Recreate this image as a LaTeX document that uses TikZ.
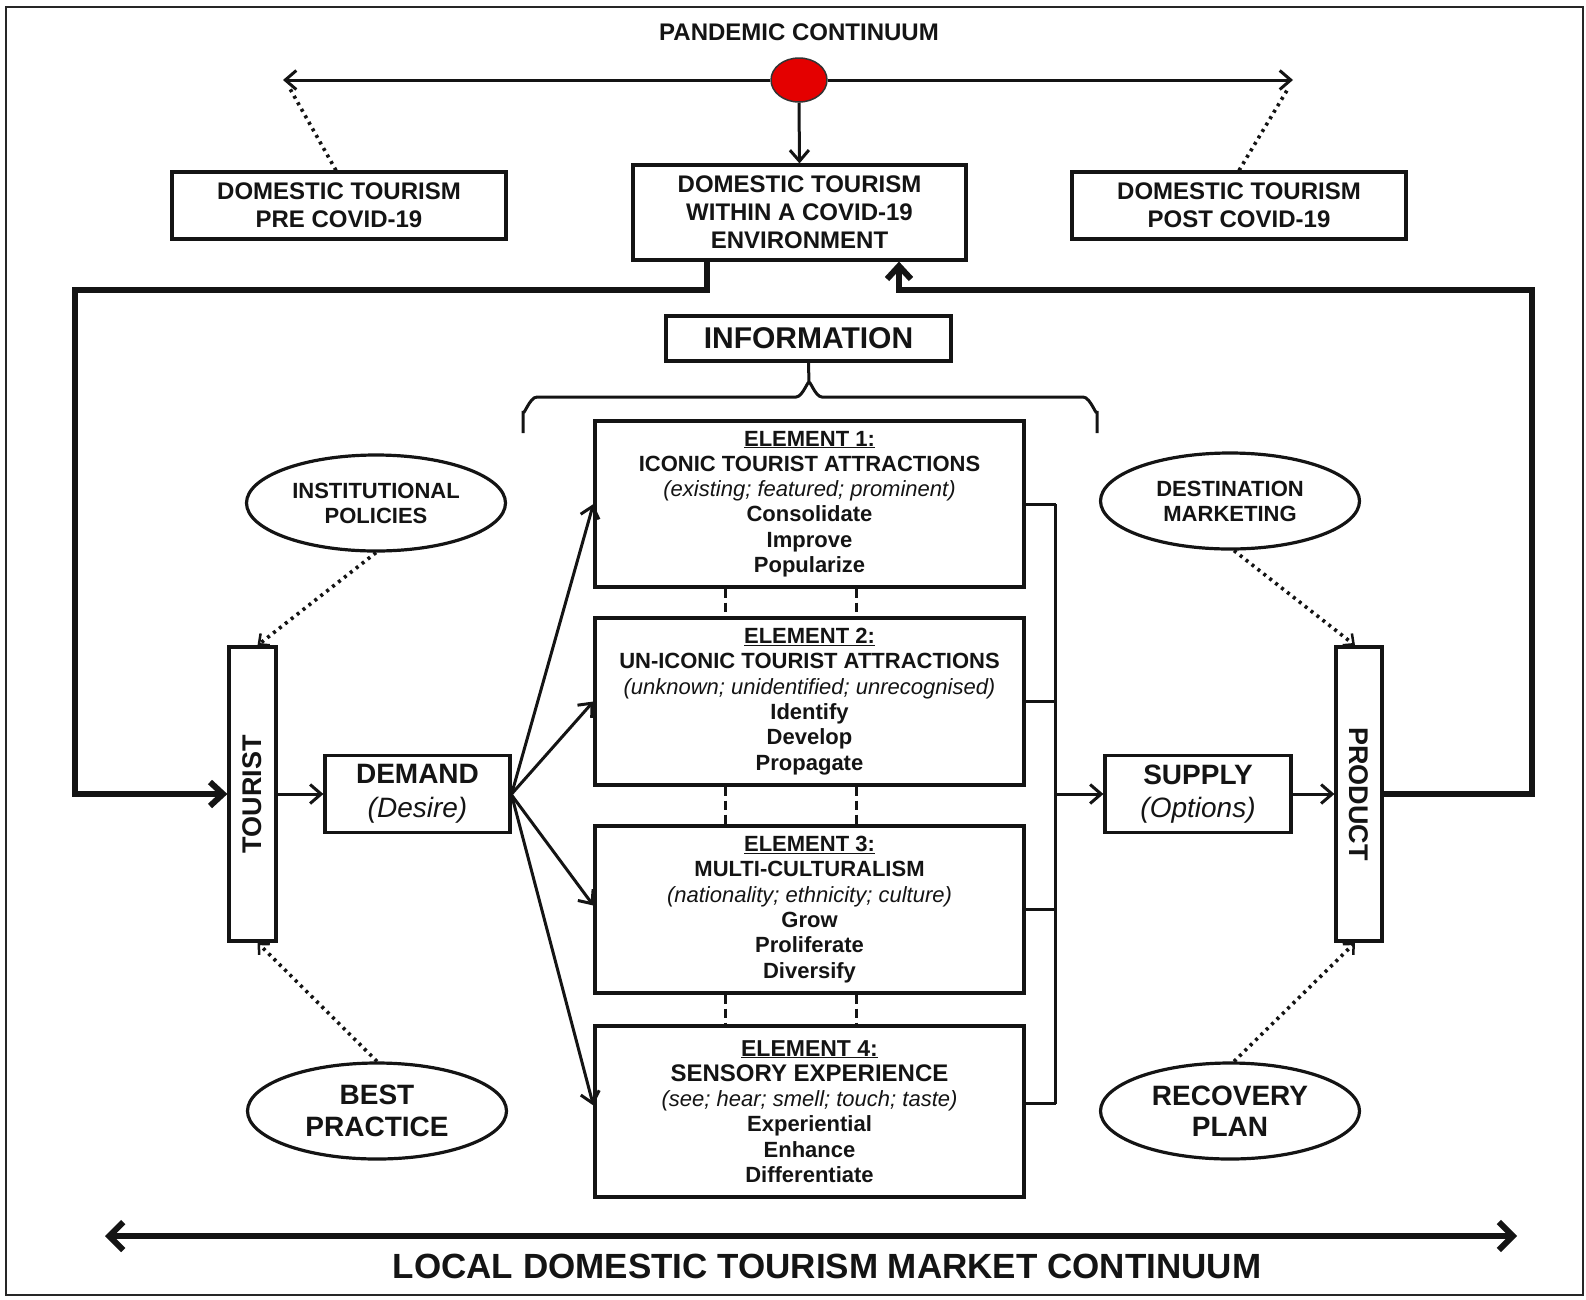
\documentclass[tikz,border=0pt]{standalone}
\usepackage{fontspec}
\setmainfont{Liberation Sans}
\usetikzlibrary{arrows.meta,shapes.geometric,calc}
\definecolor{cred}{RGB}{228,0,0}
\definecolor{ink}{RGB}{20,20,20}
\newcommand\dgTop{\fontsize{24}{27.8}\selectfont\bfseries}
\newcommand\dgInfo{\fontsize{30}{34}\selectfont\bfseries}
\newcommand\dgEl{\fontsize{22}{25.3}\selectfont\bfseries}
\newcommand\dgMid{\fontsize{28}{33.5}\selectfont}
\newcommand\dgVert{\fontsize{27}{30}\selectfont\bfseries}
\newcommand\dgEllS{\fontsize{22}{25}\selectfont\bfseries}
\newcommand\dgEllL{\fontsize{28}{31.5}\selectfont\bfseries}
\newcommand\dgBot{\fontsize{35}{40}\selectfont\bfseries}
\begin{document}
\begin{tikzpicture}[x=1pt,y=-1pt,
  box/.style={draw=ink, line width=3.2pt, fill=white, inner sep=0pt, align=center, text=ink},
  ell/.style={draw=ink, ellipse, line width=3.2pt, fill=white, inner sep=0pt, align=center, text=ink, minimum width=259pt, minimum height=96pt},
  thinline/.style={draw=ink, line width=3pt},
  thinarrow/.style={thinline, -{Straight Barb[length=11pt,width=19pt]}},
  loopline/.style={draw=ink, line width=6pt},
  looparrow/.style={loopline, -{Straight Barb[length=13pt,width=24pt]}},
  dotline/.style={draw=ink, line width=3.6pt, dash pattern=on 3pt off 4.5pt},
  dotarrow/.style={dotline, -{Straight Barb[length=8pt,width=15pt,line width=2.5pt]}},
  dashline/.style={draw=ink, line width=3.8pt, dash pattern=on 9pt off 5pt},
  lbl/.style={text=ink, inner sep=0pt, align=center}
]
\useasboundingbox (0,0) rectangle (1586,1299);
\draw[line width=2.5pt, draw=black!85] (6,7) rectangle (1583,1295);

% top
\node[lbl, font=\dgTop] (pandemic) at (799,32) {PANDEMIC CONTINUUM};
\node[draw=black!80, line width=1.5pt, fill=cred, ellipse, minimum width=56pt, minimum height=44pt, inner sep=0pt] (circ) at (799,80) {};
\coordinate (ltip) at (283,80);
\coordinate (rtip) at (1293,80);
\draw[thinarrow] (circ.west) -- (ltip);
\draw[thinarrow] (circ.east) -- (rtip);

\node[box, minimum width=334pt, minimum height=67pt, font=\dgTop] (pre) at (339,205.5) {DOMESTIC TOURISM\\PRE COVID-19};
\node[box, minimum width=333pt, minimum height=95pt, font=\dgTop] (env) at (799.5,212.5) {DOMESTIC TOURISM\\WITHIN A COVID-19\\ENVIRONMENT};
\node[box, minimum width=334pt, minimum height=67pt, font=\dgTop] (post) at (1239,205.5) {DOMESTIC TOURISM\\POST COVID-19};

\draw[thinarrow] (circ.south) -- (env.north);
\coordinate (ldot) at (289,87);
\coordinate (rdot) at (1289,87);
\draw[dotline] ([xshift=-3pt]pre.north) -- (ldot);
\draw[dotline] (post.north) -- (rdot);

% information and brace
\node[box, minimum width=285pt, minimum height=45pt, font=\dgInfo] (info) at (808.5,338.5) {INFORMATION};
\coordinate (bcusp) at (809,384);
\coordinate (bleft) at (523,433);
\coordinate (bright) at (1097,433);
\draw[thinline] (info.south) -- (bcusp) to[out=90,in=0] (796,397) -- (537,397) to[out=180,in=-90] (523,411) -- (bleft);
\draw[thinline] (bcusp) to[out=90,in=180] (822,397) -- (1083,397) to[out=0,in=-90] (1097,411) -- (bright);

% elements
\node[box, minimum width=429pt, minimum height=166pt, font=\dgEl] (e1) at (809.5,504) {\underline{ELEMENT 1:}\\ICONIC TOURIST ATTRACTIONS\\{\mdseries\itshape (existing; featured; prominent)}\\Consolidate\\Improve\\Popularize};
\node[box, minimum width=429pt, minimum height=167pt, font=\dgEl] (e2) at (809.5,701.5) {\underline{ELEMENT 2:}\\UN-ICONIC TOURIST ATTRACTIONS\\{\mdseries\itshape (unknown; unidentified; unrecognised)}\\Identify\\Develop\\Propagate};
\node[box, minimum width=429pt, minimum height=167pt, font=\dgEl] (e3) at (809.5,909.5) {\underline{ELEMENT 3:}\\MULTI-CULTURALISM\\{\mdseries\itshape (nationality; ethnicity; culture)}\\Grow\\Proliferate\\Diversify};
\node[box, minimum width=429pt, minimum height=171pt, font=\dgEl] (e4) at (809.5,1111.5) {{\fontsize{23}{25.3}\selectfont\underline{ELEMENT 4:}}\\{\fontsize{24}{27}\selectfont SENSORY EXPERIENCE}\\{\mdseries\itshape (see; hear; smell; touch; taste)}\\Experiential\\Enhance\\Differentiate};

\foreach \a/\b in {e1/e2, e2/e3, e3/e4}{
  \draw[dashline] ([xshift=-84pt]\a.south) -- ([xshift=-84pt]\b.north);
  \draw[dashline] ([xshift=47pt]\a.south) -- ([xshift=47pt]\b.north);
}

% tourist / demand
\node[box, minimum width=47pt, minimum height=294pt] (tourist) at (252.5,794) {};
\node[lbl, rotate=90, font=\dgVert] (touristlbl) at (tourist.center) {TOURIST};
\node[box, minimum width=185pt, minimum height=77pt, font=\dgMid] (demand) at (417.5,794) {{\bfseries DEMAND}\\{\itshape (Desire)}};
\draw[thinarrow] (tourist.east) -- (demand.west);
\draw[thinarrow] (demand.east) -- (e1.west);
\draw[thinarrow] (demand.east) -- (e2.west);
\draw[thinarrow] ([yshift=-1pt]demand.east) -- ([yshift=4pt]e3.west);
\draw[thinarrow] ([yshift=-1pt]demand.east) -- ([yshift=6pt]e4.west);

% supply / product
\node[box, minimum width=186pt, minimum height=77pt, font=\dgMid] (supply) at (1198,794) {{\bfseries SUPPLY}\\{\itshape (Options)}};
\node[box, minimum width=46pt, minimum height=294pt] (product) at (1359,794) {};
\node[lbl, rotate=-90, font=\dgVert] (productlbl) at (product.center) {PRODUCT};

\draw[thinline] (e1.east) -- ++(30,0) coordinate (b1);
\draw[thinline] (e2.east) -- ++(30,0);
\draw[thinline] (e3.east) -- ++(30,0);
\draw[thinline] ([yshift=8pt]e4.east) -- ++(30,0) coordinate (b4);
\draw[thinline] (b1) -- (b4);
\draw[thinarrow] (b1 |- supply.west) -- (supply.west);
\draw[thinarrow] (supply.east) -- (product.west);

% loops
\coordinate (lc1) at (707,290);
\coordinate (lc2) at (75,290);
\coordinate (lc3) at (75,794);
\draw[looparrow] (env.south -| lc1) -- (lc1) -- (lc2) -- (lc3) -- (tourist.west);
\coordinate (rc1) at (899,290);
\coordinate (rc2) at (1532,290);
\coordinate (rc3) at (1532,794);
\draw[looparrow] (product.east) -- (rc3) -- (rc2) -- (rc1) -- (rc1 |- env.south);

% ellipses
\node[ell, font=\dgEllS] (inst) at (376,503) {INSTITUTIONAL\\POLICIES};
\node[ell, font=\dgEllS] (dest) at (1230,501) {DESTINATION\\MARKETING};
\node[ell, font=\dgEllL] (best) at (377,1111) {BEST\\PRACTICE};
\node[ell, font=\dgEllL] (recov) at (1230,1111) {RECOVERY\\PLAN};
\draw[dotarrow] (inst.south) -- ([xshift=5pt]tourist.north);
\draw[dotarrow] ([xshift=4pt]dest.south) -- ([xshift=-4pt]product.north);
\draw[dotarrow] (best.north) -- ([xshift=5pt]tourist.south);
\draw[dotarrow] ([xshift=4pt]recov.north) -- ([xshift=-4pt]product.south);

% bottom continuum
\coordinate (bl) at (105,1236);
\coordinate (br) at (1517,1236);
\draw[loopline, {Straight Barb[length=14pt,width=28pt]}-{Straight Barb[length=14pt,width=28pt]}] (bl) -- (br);
\node[lbl, font=\dgBot] (market) at (827,1266) {LOCAL DOMESTIC TOURISM MARKET CONTINUUM};
\end{tikzpicture}
\end{document}
